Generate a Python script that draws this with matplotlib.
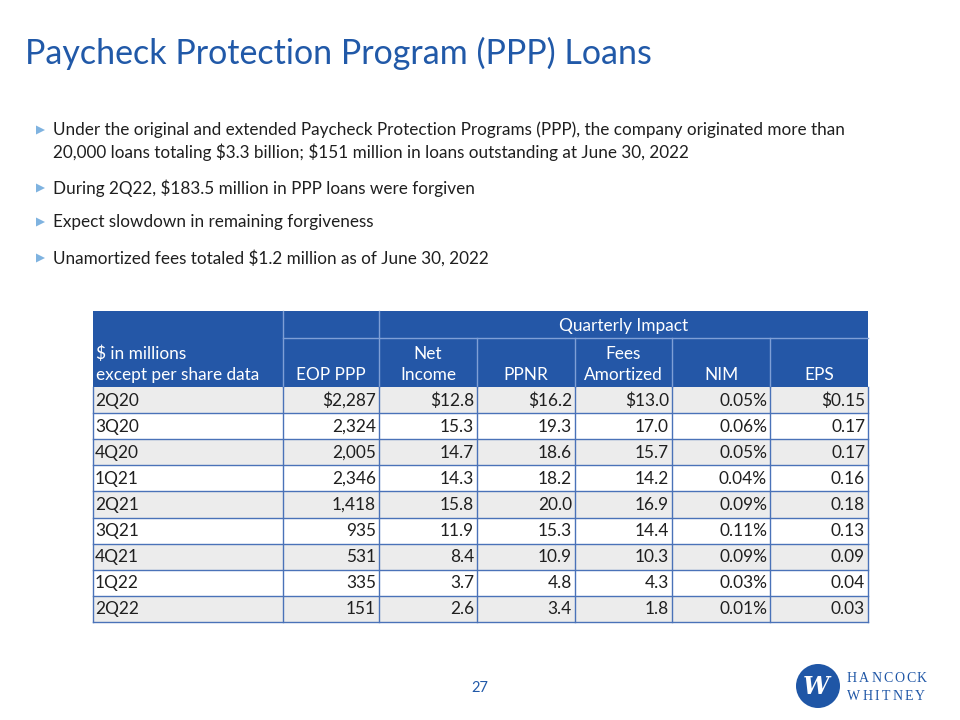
import matplotlib.pyplot as plt
from matplotlib.patches import Rectangle, Circle, Polygon
from matplotlib.textpath import TextPath
from matplotlib.font_manager import FontProperties

# Slide content
title = 'Paycheck Protection Program (PPP) Loans'
bullets = [
    ['Under the original and extended Paycheck Protection Programs (PPP), the company originated more than',
     '20,000 loans totaling $3.3 billion; $151 million in loans outstanding at June 30, 2022'],
    ['During 2Q22, $183.5 million in PPP loans were forgiven'],
    ['Expect slowdown in remaining forgiveness'],
    ['Unamortized fees totaled $1.2 million as of June 30, 2022'],
]

quarters = ['2Q20', '3Q20', '4Q20', '1Q21', '2Q21', '3Q21', '4Q21', '1Q22', '2Q22']
eop_ppp = [2287, 2324, 2005, 2346, 1418, 935, 531, 335, 151]
net_income = [12.8, 15.3, 14.7, 14.3, 15.8, 11.9, 8.4, 3.7, 2.6]
ppnr = [16.2, 19.3, 18.6, 18.2, 20.0, 15.3, 10.9, 4.8, 3.4]
fees_amortized = [13.0, 17.0, 15.7, 14.2, 16.9, 14.4, 10.3, 4.3, 1.8]
nim = [0.05, 0.06, 0.05, 0.04, 0.09, 0.11, 0.09, 0.03, 0.01]
eps = [0.15, 0.17, 0.17, 0.16, 0.18, 0.13, 0.09, 0.04, 0.03]

col_headers = ['$ in millions\nexcept per share data', 'EOP PPP', 'Net\nIncome', 'PPNR',
               'Fees\nAmortized', 'NIM', 'EPS']

FONT = 'Lato'
BLUE = '#2457a7'
TITLE_BLUE = '#2159a8'
LINE = '#4a72b8'
GRAY = '#ececec'
FS = 12.4

fig = plt.figure(figsize=(9.6, 7.2), dpi=100)
ax = fig.add_axes([0, 0, 1, 1])
ax.set_xlim(0, 960)
ax.set_ylim(720, 0)
ax.axis('off')


def txt(x, y, s, **kw):
    opts = dict(fontsize=FS, family=FONT, color='#1f1f1f', va='center', parse_math=False)
    opts.update(kw)
    ax.text(x, y, s, **opts)


txt(25, 53, title, fontsize=24.5, color=TITLE_BLUE)

# bullets
bullet_y = [130, 188, 222, 258]
for y, lines in zip(bullet_y, bullets):
    ax.add_patch(Polygon([[36, y - 4.5], [36, y + 4.5], [45, y]], color='#7fb3e0', lw=0))
    for i, ln in enumerate(lines):
        txt(53, y + i * 22, ln, fontsize=12.3)

# table geometry
x_edges = [93, 283, 379, 477, 575, 672, 770, 868]
h_top, h_mid, h_bot = 311, 338, 387
row_h = (622 - h_bot) / len(quarters)

# header
ax.add_patch(Rectangle((x_edges[0], h_top), x_edges[-1] - x_edges[0], h_bot - h_top,
                       color=BLUE, lw=0))
light = '#7f9fd6'
ax.plot([x_edges[1], x_edges[-1]], [h_mid, h_mid], color=light, lw=1)
for xe in x_edges[1:3]:
    ax.plot([xe, xe], [h_top, h_bot], color=light, lw=1)
for xe in x_edges[3:-1]:
    ax.plot([xe, xe], [h_mid, h_bot], color=light, lw=1)
txt((x_edges[2] + x_edges[-1]) / 2, (h_top + h_mid) / 2 + 1, 'Quarterly Impact',
    color='white', ha='center')
for i, hd in enumerate(col_headers):
    lines = hd.split('\n')
    for j, ln in enumerate(reversed(lines)):
        yy = h_bot - 12 - j * 21
        if i == 0:
            txt(x_edges[0] + 3, yy, ln, color='white', ha='left')
        else:
            txt((x_edges[i] + x_edges[i + 1]) / 2, yy, ln, color='white', ha='center')

# body
for r, q in enumerate(quarters):
    y0 = h_bot + r * row_h
    if r % 2 == 0:
        ax.add_patch(Rectangle((x_edges[0], y0), x_edges[-1] - x_edges[0], row_h,
                               color=GRAY, lw=0))
    d = '$' if r == 0 else ''
    cells = [q, f'{d}{eop_ppp[r]:,}', f'{d}{net_income[r]:.1f}', f'{d}{ppnr[r]:.1f}',
             f'{d}{fees_amortized[r]:.1f}', f'{nim[r]:.2f}%', f'{d}{eps[r]:.2f}']
    yc = y0 + row_h / 2 + 0.5
    for c, s in enumerate(cells):
        if c == 0:
            txt(x_edges[0] + 2, yc, s, ha='left')
        else:
            txt(x_edges[c + 1] - 3, yc, s, ha='right')
    ax.plot([x_edges[0], x_edges[-1]], [y0 + row_h, y0 + row_h], color=LINE, lw=1)
for xe in x_edges:
    ax.plot([xe, xe], [h_bot, 622], color=LINE, lw=1)

# page number
txt(480, 688, '27', fontsize=10.5, color=TITLE_BLUE, ha='center')

# logo
ax.add_patch(Circle((818, 686), 22, color='#1f56a6', lw=0))
txt(816, 687, 'W', fontsize=17, family='DejaVu Serif', weight='bold', style='italic',
    color='white', ha='center')
logo_fp = FontProperties(family='Liberation Serif', size=10)
for k, word in enumerate(['HANCOCK', 'WHITNEY']):
    x = 847
    for ch in word:
        txt(x, 678 + k * 18, ch, fontsize=10, family='Liberation Serif', color='#1f56a6', ha='left')
        w = TextPath((0, 0), ch, prop=logo_fp).get_extents().width * 100 / 72
        x += w + 2.8

fig.savefig('out.png', dpi=100)
